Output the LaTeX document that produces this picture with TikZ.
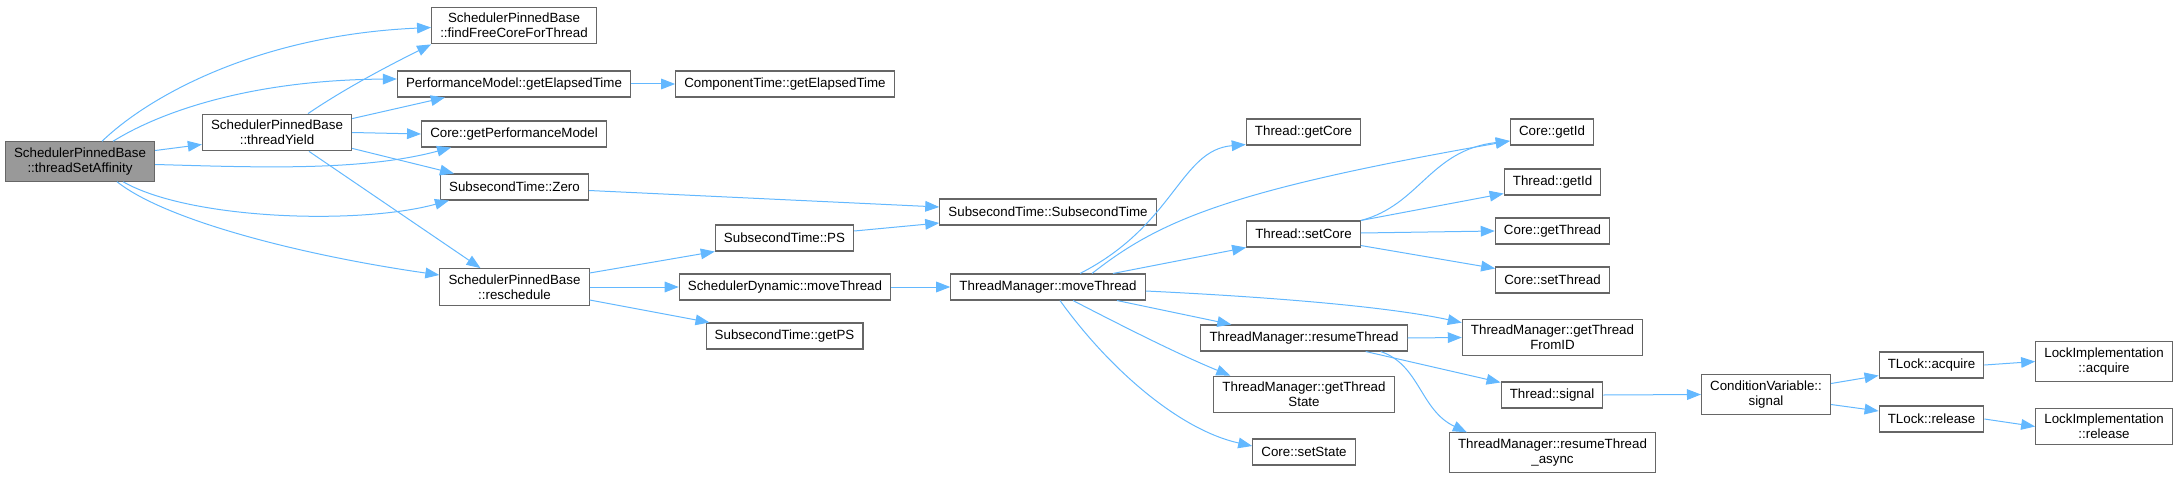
\documentclass[tikz,border=0pt]{standalone}
\usepackage{fontspec}
\setmainfont{Liberation Sans}
\usepackage{tikz}
\usetikzlibrary{arrows.meta, calc}
\definecolor{edgeblue}{HTML}{63B8FF}
\definecolor{boxgray}{HTML}{666666}
\definecolor{rootgray}{HTML}{999999}

\begin{document}
\begin{tikzpicture}[x=0.75pt, y=-0.75pt,
  fn/.style={draw=boxgray, fill=white, line width=0.8pt, align=center,
    inner xsep=6.5pt, inner ysep=4.6pt, minimum height=19.5pt,
    font=\fontsize{10}{11}\selectfont},
  root/.style={fn, fill=rootgray},
  call/.style={draw=edgeblue, line width=0.75pt, -{Triangle[length=10.5pt, width=8pt]}}]
\useasboundingbox (0,0) rectangle (2176,478);
% first column
\node[root] (tsa) at (80,161.5) {SchedulerPinnedBase\\::threadSetAffinity};
\node[fn] (ty) at (277,132.5) {SchedulerPinnedBase\\::threadYield};
% second column
\node[fn] (ffc) at (514,25.5) {SchedulerPinnedBase\\::findFreeCoreForThread};
\node[fn] (pmge) at (514,84) {PerformanceModel::getElapsedTime};
\node[fn] (cgpm) at (514,134) {Core::getPerformanceModel};
\node[fn] (stz) at (514.5,187) {SubsecondTime::Zero};
\node[fn] (resch) at (514.5,287) {SchedulerPinnedBase\\::reschedule};
% third column
\node[fn] (ctge) at (785,84) {ComponentTime::getElapsedTime};
\node[fn] (stps) at (784.5,238) {SubsecondTime::PS};
\node[fn] (sdmt) at (785,287) {SchedulerDynamic::moveThread};
\node[fn] (stgps) at (784.5,336) {SubsecondTime::getPS};
% fourth column
\node[fn] (stst) at (1048,212) {SubsecondTime::SubsecondTime};
\node[fn] (tmmt) at (1048,287) {ThreadManager::moveThread};
% fifth column
\node[fn] (tgc) at (1303.5,132) {Thread::getCore};
\node[fn] (tsc) at (1303.5,234) {Thread::setCore};
\node[fn] (tmrt) at (1304,338) {ThreadManager::resumeThread};
\node[fn] (tmgts) at (1304,394.5) {ThreadManager::getThread\\State};
\node[fn] (css) at (1304,452) {Core::setState};
% sixth column
\node[fn] (cgid) at (1552,132) {Core::getId};
\node[fn] (tgid) at (1552.5,182) {Thread::getId};
\node[fn] (cgt) at (1552.5,231) {Core::getThread};
\node[fn] (cst) at (1552.5,280) {Core::setThread};
\node[fn] (tmgtf) at (1552.5,337.5) {ThreadManager::getThread\\FromID};
\node[fn] (tsig) at (1552,395) {Thread::signal};
\node[fn] (tmrta) at (1552.5,452.5) {ThreadManager::resumeThread\\\_async};
% lock chain
\node[fn] (cvs) at (1766,394.5) {ConditionVariable::\\signal};
\node[fn] (tla) at (1931.5,365) {TLock::acquire};
\node[fn] (tlr) at (1931.5,419) {TLock::release};
\node[fn] (lia) at (2104,361.5) {LockImplementation\\::acquire};
\node[fn] (lir) at (2104,426.5) {LockImplementation\\::release};

% calls of threadSetAffinity
\draw[call] ($(tsa.north)+(22,0)$) .. controls (150,95) and (260,35) .. ($(ffc.west)+(0,2)$);
\draw[call] ($(tsa.north)+(33,0)$) .. controls (160,112) and (250,80) .. ($(pmge.west)+(0,-5)$);
\draw[call] ($(tsa.east)+(0,-11)$) -- ($(ty.west)+(0,12)$);
\draw[call] ($(tsa.east)+(0,3)$) .. controls (250,167) and (360,172) .. ($(cgpm.south west)+(30,0)$);
\draw[call] ($(tsa.south)+(43,0)$) .. controls (190,220) and (360,225) .. ($(stz.south west)+(9,0)$);
\draw[call] ($(tsa.south)+(37,0)$) .. controls (165,220) and (300,255) .. ($(resch.west)+(0,-12)$);
% calls of threadYield
\draw[call] ($(ty.north)+(31,0)$) .. controls (350,85) and (400,60) .. (ffc.south west);
\draw[call] ($(ty.north east)+(0,5)$) -- ($(pmge.south west)+(48,0)$);
\draw[call] (ty.east) -- (cgpm.west);
\draw[call] ($(ty.south east)+(0,-3)$) -- ($(stz.north west)+(14,0)$);
\draw[call] ($(ty.south)+(32,0)$) -- ($(resch.north)+(-34,0)$);
% middle
\draw[call] (pmge.east) -- (ctge.west);
\draw[call] ($(stz.east)+(0,3.5)$) -- ($(stst.west)+(0,-5)$);
\draw[call] ($(stps.east)+(0,-7)$) -- ($(stst.west)+(0,11)$);
\draw[call] ($(resch.east)+(0,-14)$) -- (stps.south west);
\draw[call] (resch.east) -- (sdmt.west);
\draw[call] ($(resch.east)+(0,13)$) -- ($(stgps.north west)+(4,0)$);
\draw[call] (sdmt.east) -- (tmmt.west);
% calls of moveThread
\draw[call] ($(tmmt.north)+(32,0)$) .. controls (1175,225) and (1180,150) .. ($(tgc.south west)+(0,-1)$);
\draw[call] ($(tmmt.north)+(44,0)$) .. controls (1160,220) and (1230,190) .. ($(cgid.west)+(0,9)$);
\draw[call] ($(tmmt.north)+(65,0)$) -- (tsc.south west);
\draw[call] ($(tmmt.east)+(0,4)$) .. controls (1250,296) and (1380,305) .. ($(tmgtf.north west)+(0,4)$);
\draw[call] ($(tmmt.south)+(69,0)$) -- ($(tmrt.north west)+(31,0)$);
\draw[call] ($(tmmt.south)+(25,0)$) .. controls (1130,330) and (1180,355) .. ($(tmgts.north west)+(17,0)$);
\draw[call] ($(tmmt.south)+(12,0)$) .. controls (1110,370) and (1180,430) .. ($(css.west)+(0,-6)$);
% calls of setCore
\draw[call] (tsc.north east) .. controls (1420,205) and (1430,150) .. ($(cgid.west)+(0,9)$);
\draw[call] (tsc.north east) -- ($(tgid.south west)+(0,-2)$);
\draw[call] ($(tsc.east)+(0,-1)$) -- (cgt.west);
\draw[call] ($(tsc.south east)+(0,-2)$) -- ($(cst.north west)+(0,2)$);
% calls of resumeThread
\draw[call] (tmrt.east) -- (tmgtf.west);
\draw[call] ($(tmrt.south east)+(-42,0)$) -- ($(tsig.north west)+(0,1)$);
\draw[call] ($(tmrt.south east)+(-27,0)$) .. controls (1420,365) and (1420,410) .. ($(tmrta.north west)+(18,0)$);
% lock chain
\draw[call] (tsig.east) -- (cvs.west);
\draw[call] ($(cvs.east)+(0,-11)$) -- ($(tla.south west)+(0,-3)$);
\draw[call] ($(cvs.east)+(0,10)$) -- ($(tlr.west)+(0,-8)$);
\draw[call] (tla.east) -- (lia.west);
\draw[call] (tlr.east) -- (lir.west);
\end{tikzpicture}
\end{document}
